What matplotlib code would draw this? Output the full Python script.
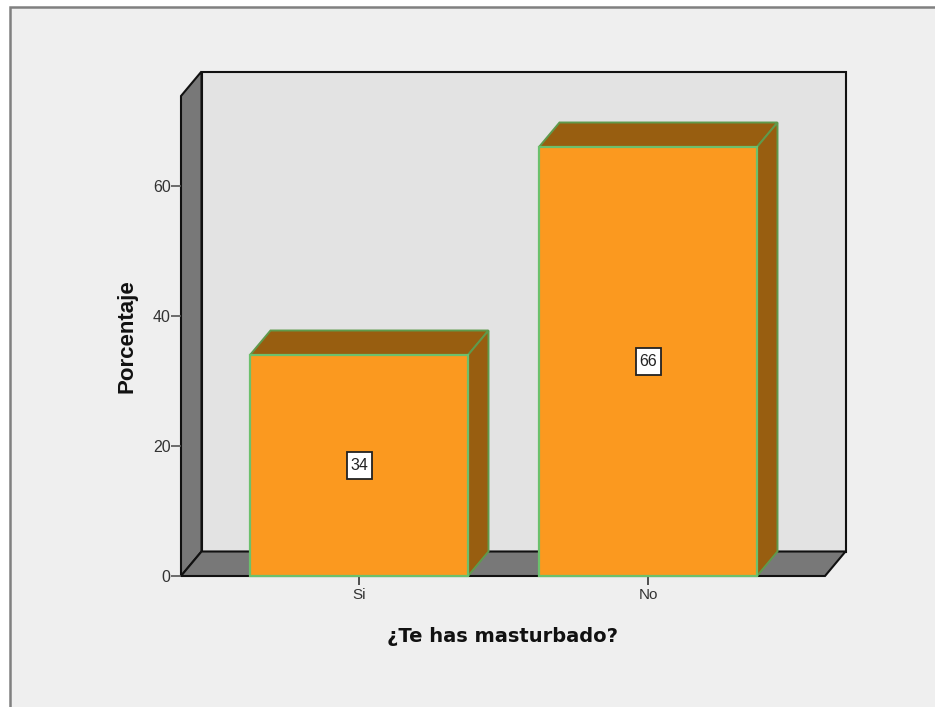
#3D looking bar chart (SPSS style) drawn on a normal 2D axes
import matplotlib
matplotlib.use("Agg")
import matplotlib.pyplot as plt
from matplotlib.patches import Polygon, Rectangle

categories = ["Si", "No"]
values = [34, 66]
y_ticks = [0, 20, 40, 60]
x_title = "¿Te has masturbado?"
y_title = "Porcentaje"

W, H = 935, 707
BG = "#efefef"
WALL = "#e3e3e3"
SIDE = "#787878"
ORANGE = "#fb991f"
BROWN = "#985e10"
EDGE = "#6cc06c"

# front plane of the chart in pixels
left, right, bottom, top = 181, 825, 576, 96
px_per_cat = 289.0
px_per_unit = 6.5

fig = plt.figure(figsize=(W / 100, H / 100), dpi=100, facecolor="white")

# grey panel with the darker border, runs off the right and bottom of the picture
fig.patches.append(Rectangle((9.5 / W, -0.05), 1.0, 1.05 - 6.5 / H, transform=fig.transFigure,
                             facecolor=BG, edgecolor="#808080", linewidth=1.8, zorder=-1))

ax = fig.add_axes([left / W, 1 - bottom / H, (right - left) / W, (bottom - top) / H])
ax.set_xlim((left - 359) / px_per_cat, (right - 359) / px_per_cat)
ax.set_ylim(0, (bottom - top) / px_per_unit)
ax.patch.set_visible(False)
for s in ax.spines.values():
    s.set_visible(False)

xmin, xmax = ax.get_xlim()
ymin, ymax = ax.get_ylim()
dx = 20.5 / px_per_cat   # depth of the 3D effect in data units
dy = 24.5 / px_per_unit


def poly(pts, fc, ec, lw=1.5, z=1):
    ax.add_patch(Polygon(pts, closed=True, facecolor=fc, edgecolor=ec, linewidth=lw,
                         zorder=z, clip_on=False, joinstyle="miter"))


# back wall, left wall, floor
poly([(xmin + dx, dy), (xmax + dx, dy), (xmax + dx, ymax + dy), (xmin + dx, ymax + dy)], WALL, "#111111", z=1)
poly([(xmin, 0), (xmin + dx, dy), (xmin + dx, ymax + dy), (xmin, ymax)], SIDE, "#111111", z=1)
poly([(xmin, 0), (xmax, 0), (xmax + dx, dy), (xmin + dx, dy)], SIDE, "#111111", z=1)

# bars
bar_w = 218 / px_per_cat
box_w = 25 / px_per_cat   # white value box, in data units
box_h = 27 / px_per_unit
for i, v in enumerate(values):
    x0 = i - bar_w / 2
    x1 = i + bar_w / 2
    poly([(x0, v), (x1, v), (x1 + dx, v + dy), (x0 + dx, v + dy)], BROWN, "#5f9a4c", lw=1.4, z=3)
    poly([(x1, 0), (x1 + dx, dy), (x1 + dx, v + dy), (x1, v)], BROWN, "#5f9a4c", lw=1.4, z=3)
    poly([(x0, 0), (x1, 0), (x1, v), (x0, v)], ORANGE, EDGE, lw=1.6, z=4)
    ax.add_patch(Rectangle((i - box_w / 2, v / 2 - box_h / 2), box_w, box_h, facecolor="white",
                           edgecolor="#222222", linewidth=1.3, zorder=5))
    ax.text(i, v / 2, str(v), ha="center", va="center", fontsize=11.5, family="Liberation Sans",
            color="#222222", zorder=6)

ax.set_xticks(range(len(categories)))
ax.set_xticklabels(categories, fontsize=11, family="Liberation Sans", color="#333333")
ax.set_yticks(y_ticks)
ax.set_yticklabels([str(t) for t in y_ticks], fontsize=11.5, family="Liberation Sans", color="#333333")
ax.tick_params(axis="x", length=6.5, width=1.2, color="#333333", pad=2)
ax.tick_params(axis="y", length=7, width=1.2, color="#555555", pad=0.5)

fig.text(127 / W, 1 - 336 / H, y_title, rotation=90, ha="center", va="center",
         fontsize=16, fontweight="bold", family="Liberation Sans", color="#111111")
fig.text(502.5 / W, 1 - 637 / H, x_title, ha="center", va="center",
         fontsize=14, fontweight="bold", family="DejaVu Sans", color="#111111")

fig.savefig("out.png", dpi=100, facecolor="white")
